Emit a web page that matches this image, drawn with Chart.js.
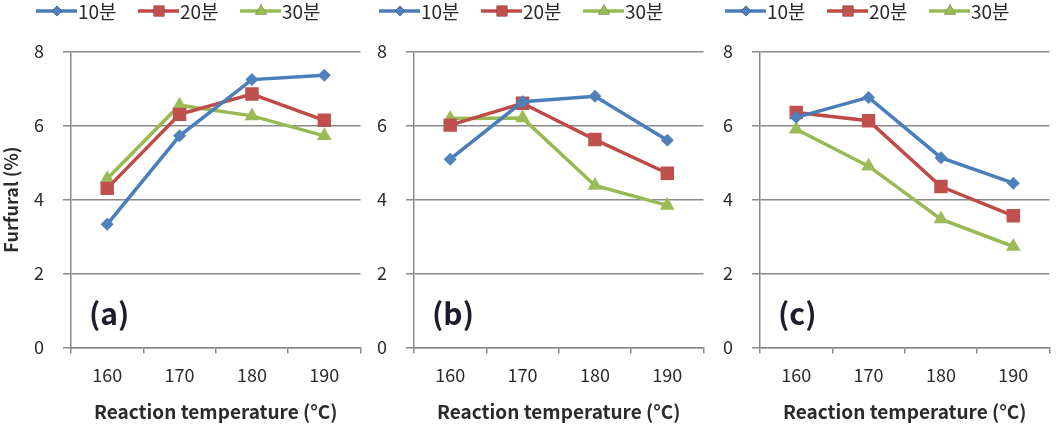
<!DOCTYPE html>
<html>
<head>
<meta charset="utf-8">
<script src="https://cdn.jsdelivr.net/npm/chart.js@4.4.1/dist/chart.umd.min.js"></script>
<style>
  html, body { margin: 0; padding: 0; background: #fff; }
  body { width: 1063px; height: 433px; position: relative; overflow: hidden; }
  .panel { position: absolute; top: 0; height: 433px; }
</style>
</head>
<body>
<div class="panel" id="pa" style="left:0px;width:370px"><canvas id="ca"></canvas></div>
<div class="panel" id="pb" style="left:343px;width:370px"><canvas id="cb"></canvas></div>
<div class="panel" id="pc" style="left:689px;width:370px"><canvas id="cc"></canvas></div>
<script>
const categories = ['160', '170', '180', '190'];
const seriesNames = ['10분', '20분', '30분'];
const yTicks = [0, 2, 4, 6, 8];
const panelLabels = ['(a)', '(b)', '(c)'];

const panelA_10 = [3.33, 5.72, 7.24, 7.36];
const panelA_20 = [4.30, 6.30, 6.85, 6.14];
const panelA_30 = [4.56, 6.55, 6.26, 5.72];

const panelB_10 = [5.09, 6.64, 6.79, 5.60];
const panelB_20 = [6.01, 6.60, 5.62, 4.71];
const panelB_30 = [6.19, 6.20, 4.38, 3.84];

const panelC_10 = [6.22, 6.76, 5.13, 4.44];
const panelC_20 = [6.35, 6.13, 4.35, 3.56];
const panelC_30 = [5.90, 4.90, 3.47, 2.73];

const xTitle = 'Reaction temperature (°C)';
const yTitle = 'Furfural (%)';

const styles = [
  { line: '#4A7EBB', fill: '#4F81BD', point: 'rectRot', radius: 6.5 },
  { line: '#BE4B48', fill: '#C0504D', point: 'rect', radius: 9.5 },
  { line: '#98B954', fill: '#9BBB59', point: 'triangle', radius: 8.5 }
];

const FONT = "'Noto Sans CJK KR', 'Noto Sans', sans-serif";
const TXT = '#2b2b2b';
const GRID = '#8a8a8a';

const legendPlugin = {
  id: 'excelLegend',
  afterDraw(chart) {
    const ctx = chart.ctx;
    const left = chart.chartArea.left;
    ctx.save();
    chart.data.datasets.forEach((ds, i) => {
      const x = left - 35 + i * 102;
      const y = 11;
      ctx.strokeStyle = ds.borderColor;
      ctx.lineWidth = ds.borderWidth;
      ctx.beginPath();
      ctx.moveTo(x, y);
      ctx.lineTo(x + 41, y);
      ctx.stroke();
      Chart.helpers.drawPoint(ctx, {
        pointStyle: ds.pointStyle,
        radius: ds.pointRadius * 0.8,
        borderWidth: 0,
        rotation: 0
      }, x + 21, y);
      ctx.fillStyle = ds.pointBackgroundColor;
      ctx.fill();
      ctx.fillStyle = TXT;
      ctx.font = '19px ' + FONT;
      ctx.textBaseline = 'middle';
      ctx.textAlign = 'left';
      ctx.fillText(ds.label, x + 42, y + 1);
    });
    ctx.restore();
  }
};

const panelLabelPlugin = {
  id: 'panelLabel',
  afterDraw(chart, args, opts) {
    const ctx = chart.ctx;
    ctx.save();
    ctx.fillStyle = '#1c1c2c';
    ctx.font = 'bold 30px ' + FONT;
    ctx.textBaseline = 'middle';
    ctx.textAlign = 'left';
    ctx.fillText(opts.text, chart.chartArea.left + 18, 314);
    ctx.restore();
  }
};

function makePanel(canvasId, s10, s20, s30, label, showYTitle) {
  const data = [s10, s20, s30];
  return new Chart(document.getElementById(canvasId), {
    type: 'line',
    data: {
      labels: categories,
      datasets: data.map((d, i) => ({
        label: seriesNames[i],
        data: d,
        borderColor: styles[i].line,
        borderWidth: 3.5,
        pointStyle: styles[i].point,
        pointRadius: styles[i].radius,
        pointHoverRadius: styles[i].radius,
        pointBackgroundColor: styles[i].fill,
        pointBorderColor: styles[i].fill,
        pointBorderWidth: 0,
        tension: 0,
        fill: false
      }))
    },
    options: {
      responsive: true,
      maintainAspectRatio: false,
      animation: false,
      events: [],
      layout: { padding: { top: 51.5, right: 6, bottom: 0, left: 0 } },
      plugins: {
        legend: { display: false },
        tooltip: { enabled: false },
        panelLabel: { text: label }
      },
      scales: {
        x: {
          type: 'category',
          offset: true,
          afterFit(scale) { scale.height = 85.5; },
          grid: {
            offset: true,
            drawOnChartArea: false,
            drawTicks: true,
            tickLength: 6,
            color: GRID,
            lineWidth: 1.5
          },
          border: { display: true, color: GRID, width: 1.5 },
          ticks: {
            color: TXT,
            font: { family: FONT, size: 18 },
            padding: 11,
            maxRotation: 0
          },
          title: {
            display: true,
            text: xTitle,
            color: TXT,
            font: { family: FONT, size: 19, weight: 'bold' },
            padding: { top: 0, bottom: 10 }
          }
        },
        y: {
          min: 0,
          max: 8,
          afterFit(scale) { scale.width = 71; },
          afterBuildTicks(scale) { scale.ticks = yTicks.map(v => ({ value: v })); },
          grid: {
            color: GRID,
            lineWidth: 1.5,
            drawTicks: true,
            tickLength: 8
          },
          border: { display: true, color: GRID, width: 1.5 },
          ticks: {
            color: TXT,
            font: { family: FONT, size: 18 },
            padding: 19
          },
          title: {
            display: showYTitle,
            text: yTitle,
            color: TXT,
            font: { family: FONT, size: 18, weight: 'bold' },
            padding: { top: 0, bottom: 0 }
          }
        }
      }
    },
    plugins: [legendPlugin, panelLabelPlugin]
  });
}

makePanel('ca', panelA_10, panelA_20, panelA_30, panelLabels[0], true);
makePanel('cb', panelB_10, panelB_20, panelB_30, panelLabels[1], false);
makePanel('cc', panelC_10, panelC_20, panelC_30, panelLabels[2], false);
</script>
</body>
</html>
